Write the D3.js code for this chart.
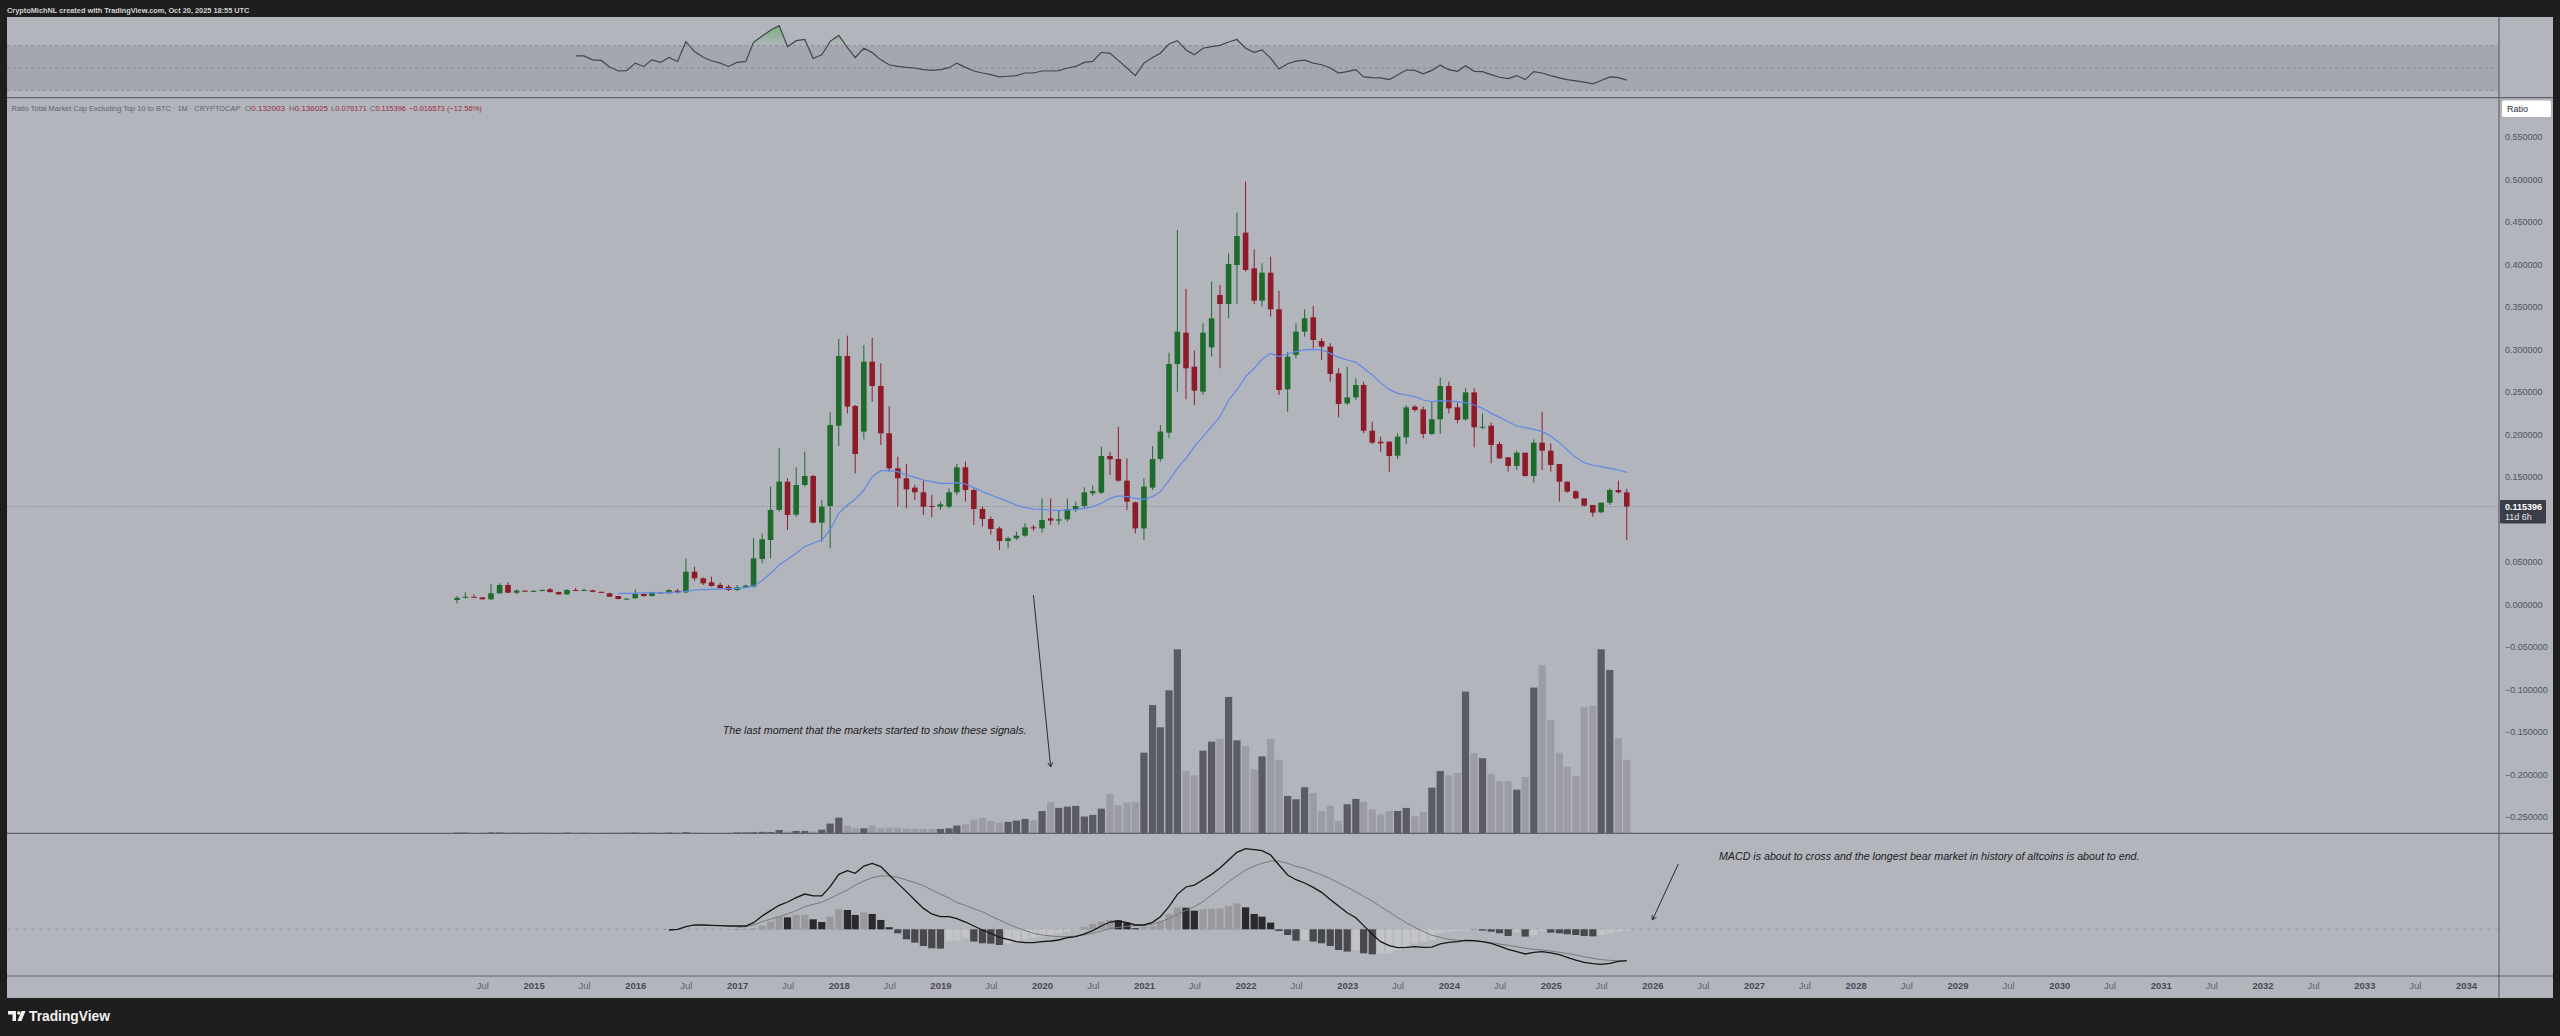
<!DOCTYPE html>
<html><head><meta charset="utf-8">
<script src="https://cdn.jsdelivr.net/npm/d3@7"></script>
<style>html,body{margin:0;padding:0;background:#1e1e1e;overflow:hidden}svg{display:block}</style>
</head><body>
<svg id="c" width="2560" height="1036"></svg>
<script>
// ---------------- DATA (monthly) ----------------
const firstMonth = [2014, 3];          // April 2014 (UTC year, month index)
// [open, high, low, close]
const ohlc = [
 // 2014 Apr-Dec
 [0.0054,0.0100,0.0015,0.0080],[0.0080,0.0144,0.0070,0.0092],[0.0092,0.0120,0.0080,0.0085],
 [0.0085,0.0088,0.0060,0.0062],[0.0062,0.0242,0.0054,0.0133],[0.0133,0.0250,0.0130,0.0231],
 [0.0231,0.0262,0.0133,0.0140],[0.0140,0.0180,0.0125,0.0164],[0.0164,0.0170,0.0150,0.0158],
 // 2015
 [0.0158,0.0172,0.0150,0.0162],[0.0162,0.0180,0.0155,0.0172],[0.0180,0.0195,0.0140,0.0148],
 [0.0148,0.0152,0.0115,0.0121],[0.0121,0.0180,0.0115,0.0172],[0.0172,0.0195,0.0160,0.0170],
 [0.0170,0.0190,0.0160,0.0172],[0.0168,0.0175,0.0145,0.0150],[0.0150,0.0155,0.0135,0.0140],
 [0.0133,0.0138,0.0090,0.0093],[0.0101,0.0103,0.0062,0.0066],[0.0066,0.0074,0.0058,0.0070],
 // 2016
 [0.0074,0.0180,0.0068,0.0125],[0.0125,0.0130,0.0095,0.0101],[0.0101,0.0150,0.0095,0.0144],
 [0.0144,0.0150,0.0125,0.0133],[0.0133,0.0180,0.0128,0.0172],[0.0164,0.0185,0.0135,0.0144],
 [0.0144,0.0540,0.0133,0.0387],[0.0387,0.0446,0.0282,0.0309],[0.0309,0.0320,0.0230,0.0250],
 [0.0262,0.0329,0.0211,0.0219],[0.0231,0.0258,0.0180,0.0191],[0.0211,0.0231,0.0160,0.0172],
 // 2017
 [0.0172,0.0230,0.0160,0.0203],[0.0203,0.0235,0.0195,0.0223],[0.0211,0.0780,0.0200,0.0544],
 [0.0536,0.0835,0.0486,0.0768],[0.0760,0.1388,0.0544,0.1113],[0.1113,0.1838,0.1093,0.1446],
 [0.1446,0.1486,0.0878,0.1054],[0.1058,0.1615,0.1031,0.1407],[0.1407,0.1799,0.1388,0.1513],
 [0.1513,0.1525,0.0956,0.0964],[0.0964,0.1231,0.0741,0.1152],[0.1160,0.2262,0.0662,0.2113],
 // 2018
 [0.2105,0.3125,0.1866,0.2925],[0.2925,0.3164,0.2250,0.2329],[0.2337,0.2348,0.1544,0.1772],
 [0.2035,0.3054,0.1944,0.2858],[0.2858,0.3140,0.2388,0.2572],[0.2572,0.2839,0.1878,0.2015],
 [0.2015,0.2337,0.1564,0.1603],[0.1603,0.1740,0.1152,0.1486],[0.1486,0.1654,0.1133,0.1356],
 [0.1376,0.1407,0.1231,0.1321],[0.1321,0.1458,0.1054,0.1152],[0.1160,0.1290,0.1027,0.1156],
 // 2019
 [0.1152,0.1211,0.1113,0.1180],[0.1152,0.1368,0.1133,0.1321],[0.1321,0.1654,0.1290,0.1615],
 [0.1615,0.1682,0.1211,0.1348],[0.1348,0.1368,0.0937,0.1125],[0.1125,0.1152,0.0917,0.1007],
 [0.1007,0.1035,0.0823,0.0889],[0.0897,0.0917,0.0643,0.0748],[0.0748,0.0799,0.0662,0.0780],
 [0.0780,0.0858,0.0760,0.0811],[0.0811,0.0956,0.0799,0.0909],[0.0909,0.0937,0.0870,0.0901],
 // 2020
 [0.0897,0.1250,0.0847,0.0995],[0.1015,0.1250,0.0937,0.0988],[0.0988,0.1113,0.0937,0.1003],
 [0.1003,0.1250,0.0976,0.1121],[0.1121,0.1211,0.1090,0.1160],[0.1160,0.1380,0.1130,0.1321],
 [0.1309,0.1400,0.1280,0.1335],[0.1317,0.1858,0.1300,0.1748],[0.1748,0.1799,0.1525,0.1709],
 [0.1713,0.2093,0.1446,0.1458],[0.1458,0.1719,0.1113,0.1211],[0.1203,0.1211,0.0839,0.0897],
 // 2021
 [0.0897,0.1486,0.0760,0.1388],[0.1376,0.1866,0.1348,0.1713],[0.1713,0.2113,0.1682,0.2035],
 [0.2023,0.2964,0.1956,0.2831],[0.2831,0.4407,0.2505,0.3211],[0.3199,0.3713,0.2415,0.2780],
 [0.2799,0.2988,0.2348,0.2517],[0.2505,0.3309,0.2466,0.3199],[0.3027,0.3799,0.2917,0.3368],
 [0.3642,0.3760,0.2780,0.3537],[0.3537,0.4133,0.3368,0.4007],[0.3995,0.4611,0.3537,0.4336],
 // 2022
 [0.4376,0.4976,0.3917,0.3937],[0.3956,0.4180,0.3537,0.3576],[0.3576,0.4015,0.3505,0.3905],
 [0.3905,0.4093,0.3388,0.3474],[0.3474,0.3693,0.2466,0.2525],[0.2532,0.2970,0.2270,0.2917],
 [0.2937,0.3309,0.2897,0.3211],[0.3211,0.3474,0.3152,0.3368],[0.3380,0.3513,0.3015,0.3113],
 [0.3101,0.3133,0.2878,0.3035],[0.3035,0.3074,0.2623,0.2713],[0.2721,0.2780,0.2203,0.2360],
 // 2023
 [0.2368,0.2799,0.2348,0.2438],[0.2438,0.2662,0.2407,0.2584],[0.2584,0.2623,0.2015,0.2046],
 [0.2046,0.2152,0.1889,0.1905],[0.1917,0.1976,0.1799,0.1897],[0.1917,0.1917,0.1564,0.1748],
 [0.1752,0.2015,0.1713,0.1976],[0.1968,0.2348,0.1889,0.2321],[0.2329,0.2348,0.2270,0.2289],
 [0.2297,0.2329,0.1956,0.2007],[0.2007,0.2388,0.1995,0.2180],[0.2180,0.2674,0.2007,0.2572],
 // 2024
 [0.2572,0.2623,0.2250,0.2309],[0.2321,0.2376,0.2133,0.2172],[0.2180,0.2544,0.2164,0.2497],
 [0.2497,0.2544,0.1850,0.2086],[0.2086,0.2250,0.2062,0.2093],[0.2105,0.2141,0.1662,0.1878],
 [0.1889,0.1917,0.1713,0.1721],[0.1733,0.1733,0.1564,0.1631],[0.1631,0.1811,0.1584,0.1787],
 [0.1787,0.1787,0.1505,0.1513],[0.1513,0.1944,0.1435,0.1905],[0.1905,0.2270,0.1584,0.1811],
 // 2025 Jan-Oct
 [0.1811,0.1897,0.1564,0.1643],[0.1654,0.1654,0.1211,0.1446],[0.1446,0.1446,0.1317,0.1329],
 [0.1333,0.1348,0.1239,0.1250],[0.1250,0.1250,0.1152,0.1164],[0.1172,0.1172,0.1035,0.1082],
 [0.1086,0.1199,0.1074,0.1199],[0.1199,0.1368,0.1172,0.1348],[0.1348,0.1458,0.1309,0.1321],
 [0.132003,0.136025,0.076171,0.115396]
];
// relative volume (0-100), same months as ohlc
const volume = [
 0.4,0.4,0.3,0.3,0.5,0.5,0.5,0.3,0.3,
 0.3,0.3,0.4,0.3,0.4,0.3,0.3,0.3,0.3,0.4,0.4,0.3,
 0.4,0.3,0.3,0.3,0.4,0.3,0.6,0.4,0.3,0.3,0.3,0.3,
 0.5,0.5,0.6,0.8,0.7,1.8,0.9,1.3,1.3,0.9,2.0,5.3,
 8.5,4.2,2.7,2.7,4.2,2.9,3.1,2.9,2.5,2.4,2.4,2.4,
 2.4,2.7,4.2,4.9,7.4,8.3,6.7,5.8,6.2,6.9,7.8,7.1,
 12.1,17.0,13.8,14.5,14.9,9.1,10.0,13.4,21.4,15.2,16.7,17.0,
 43.8,69.7,57.6,77.7,100,33.9,31.5,44.9,49.8,51.3,74.1,50.5,
 47.5,34.8,41.8,51.3,39.9,20.3,18.5,25.0,21.9,12.1,15.0,6.7,
 15.8,18.7,17.0,13.0,10.3,12.1,12.1,13.8,9.2,11.6,24.8,33.9,
 31.5,32.8,77.0,43.5,40.8,32.2,28.3,28.3,23.7,30.6,79.2,91.5,
 61.6,43.8,36.2,31.3,68.5,69.2,100,88.8,51.6,39.9
];
// 20-month moving average, starting Nov 2015
const maStart = [2015, 10];
const ma20 = [
 0.0133,0.0133,
 0.0133,0.0137,0.0137,0.0140,0.0144,0.0148,0.0156,0.0172,0.0176,0.0180,0.0184,0.0188,
 0.0192,0.0200,0.0220,0.0282,0.0368,0.0466,0.0533,0.0603,0.0682,0.0721,0.0760,0.0878,
 0.1074,0.1172,0.1239,0.1348,0.1505,0.1576,0.1576,0.1564,0.1525,0.1497,0.1466,0.1446,
 0.1427,0.1427,0.1435,0.1419,0.1376,0.1329,0.1290,0.1250,0.1211,0.1172,0.1141,0.1125,
 0.1121,0.1113,0.1105,0.1113,0.1121,0.1133,0.1152,0.1192,0.1250,0.1278,0.1270,0.1250,
 0.1239,0.1270,0.1329,0.1458,0.1603,0.1721,0.1858,0.1976,0.2093,0.2211,0.2407,0.2525,
 0.2682,0.2780,0.2886,0.2956,0.2917,0.2948,0.2976,0.2996,0.3003,0.2996,0.2956,0.2909,
 0.2878,0.2850,0.2780,0.2701,0.2611,0.2532,0.2485,0.2466,0.2446,0.2407,0.2388,0.2399,
 0.2395,0.2388,0.2376,0.2348,0.2309,0.2250,0.2203,0.2152,0.2101,0.2082,0.2062,0.2035,
 0.1984,0.1905,0.1819,0.1729,0.1670,0.1639,0.1623,0.1603,0.1584,0.1556
];
// RSI, starting Jun 2015
const rsiStart = [2015, 5];
const rsi = [
 60.9,60.9,57.3,56.8,50.9,47.3,47.6,54.4,51.4,57.3,55.0,59.4,55.9,73.6,64.7,59.7,56.5,54.4,51.4,55.0,
 55.9,73.0,78.6,83.9,88.0,69.1,74.5,75.6,58.5,61.8,73.9,79.2,68.3,59.4,67.7,63.8,57.3,52.9,51.4,50.6,
 50.0,48.5,47.9,48.5,50.3,54.4,50.6,47.3,45.5,44.1,42.0,42.6,43.2,45.5,45.5,47.3,47.3,47.6,50.0,51.4,
 55.0,55.9,64.1,63.2,56.8,50.0,43.2,54.4,59.4,63.2,71.5,74.5,66.2,61.8,67.7,69.1,70.3,73.3,75.6,67.7,
 64.1,66.2,58.8,49.1,53.8,56.2,57.1,54.4,52.9,50.0,45.5,46.7,48.5,42.0,41.4,41.1,39.6,43.8,48.2,47.9,
 44.7,47.9,52.6,48.5,47.0,52.0,47.0,46.7,44.1,41.7,40.5,43.2,39.6,46.7,45.5,43.2,41.1,39.6,38.5,37.3,
 35.8,38.8,42.0,41.4,39.1
];
const rsiTicks = [75, 50, 25];
const rsiLevels = [70, 50, 30];
// MACD line, starting May 2016
const macdStart = [2016, 4];
const macd = [
 -0.0006,0.0000,0.0023,0.0038,0.0038,0.0035,0.0032,0.0029,
 0.0029,0.0029,0.0058,0.0117,0.0164,0.0211,0.0240,0.0278,0.0310,0.0293,0.0293,0.0375,
 0.0483,0.0515,0.0492,0.0556,0.0580,0.0551,0.0477,0.0404,0.0331,0.0258,0.0184,0.0135,
 0.0111,0.0111,0.0093,0.0064,0.0029,-0.0006,-0.0035,-0.0070,-0.0088,-0.0109,-0.0117,-0.0117,
 -0.0109,-0.0103,-0.0094,-0.0073,-0.0065,-0.0041,-0.0012,0.0029,0.0064,0.0073,0.0058,0.0038,
 0.0038,0.0061,0.0111,0.0199,0.0307,0.0372,0.0389,0.0436,0.0483,0.0539,0.0609,0.0677,
 0.0709,0.0700,0.0691,0.0653,0.0565,0.0477,0.0436,0.0407,0.0369,0.0325,0.0263,0.0205,
 0.0146,0.0102,0.0032,-0.0044,-0.0109,-0.0144,-0.0161,-0.0159,-0.0153,-0.0159,-0.0156,-0.0129,
 -0.0115,-0.0109,-0.0097,-0.0100,-0.0109,-0.0123,-0.0147,-0.0176,-0.0197,-0.0217,-0.0202,-0.0197,
 -0.0208,-0.0223,-0.0246,-0.0270,-0.0290,-0.0302,-0.0308,-0.0299,-0.0282,-0.0276
];
// Signal line and histogram, starting Jan 2017
const signalStart = [2017, 0];
const signal = [
 0.0017,0.0023,0.0038,0.0067,0.0088,0.0111,0.0135,0.0164,0.0199,0.0219,0.0237,0.0272,
 0.0310,0.0345,0.0389,0.0425,0.0454,0.0469,0.0469,0.0457,0.0433,0.0410,0.0384,0.0345,
 0.0310,0.0275,0.0234,0.0211,0.0181,0.0155,0.0117,0.0082,0.0047,0.0017,-0.0012,-0.0035,
 -0.0050,-0.0059,-0.0065,-0.0065,-0.0059,-0.0050,-0.0035,-0.0015,0.0006,0.0017,0.0026,0.0032,
 0.0035,0.0044,0.0067,0.0094,0.0129,0.0167,0.0199,0.0243,0.0302,0.0357,0.0419,0.0469,
 0.0521,0.0556,0.0580,0.0600,0.0600,0.0580,0.0553,0.0536,0.0504,0.0480,0.0445,0.0407,
 0.0369,0.0331,0.0290,0.0249,0.0199,0.0152,0.0103,0.0058,0.0017,-0.0018,-0.0053,-0.0070,
 -0.0088,-0.0097,-0.0100,-0.0103,-0.0109,-0.0117,-0.0129,-0.0141,-0.0153,-0.0167,-0.0176,-0.0182,
 -0.0191,-0.0202,-0.0214,-0.0226,-0.0241,-0.0255,-0.0267,-0.0273,-0.0276,-0.0276
];
const histogram = [
 0.0003,0.0003,0.0009,0.0032,0.0067,0.0111,0.0105,0.0126,0.0129,0.0088,0.0064,0.0111,
 0.0176,0.0170,0.0126,0.0149,0.0135,0.0082,0.0018,-0.0035,-0.0088,-0.0117,-0.0147,-0.0167,
 -0.0170,-0.0108,-0.0100,-0.0079,-0.0108,-0.0123,-0.0126,-0.0138,-0.0129,-0.0108,-0.0088,-0.0079,
 -0.0064,-0.0050,-0.0035,-0.0021,-0.0006,0.0023,0.0047,0.0067,0.0082,0.0079,0.0059,0.0009,
 0.0023,0.0029,0.0067,0.0135,0.0193,0.0190,0.0164,0.0176,0.0179,0.0185,0.0205,0.0229,
 0.0193,0.0135,0.0111,0.0059,-0.0015,-0.0050,-0.0100,-0.0094,-0.0108,-0.0123,-0.0147,-0.0182,
 -0.0196,-0.0182,-0.0211,-0.0220,-0.0217,-0.0211,-0.0182,-0.0147,-0.0123,-0.0108,-0.0094,-0.0035,
 -0.0021,-0.0015,-0.0012,0.0003,-0.0012,-0.0021,-0.0035,-0.0059,-0.0026,-0.0064,-0.0050,-0.0015,
 -0.0029,-0.0035,-0.0044,-0.0050,-0.0059,-0.0062,-0.0050,-0.0035,-0.0021,-0.0012
];
const macdTicks = [0.08, 0.06, 0.04, 0.02, 0, -0.02, -0.04];
// 0.100000 is hidden behind the last-price label in the reference
const priceTicks = [0.55,0.50,0.45,0.40,0.35,0.30,0.25,0.20,0.15,0.05,0,-0.05,-0.10,-0.15,-0.20,-0.25];
const lastPrice = 0.115396;
const axisRange = [[2014,6],[2034,0]];   // first and last labelled tick (Jul 2014 .. 2034)
const headerText = "CryptoMichNL created with TradingView.com, Oct 20, 2025 18:55 UTC";
const titleText = "Ratio Total Market Cap Excluding Top 10 to BTC · 1M · CRYPTOCAP";
const ohlcLegend = [["O","0.132003"],["H","0.136025"],["L","0.076171"],["C","0.115396"],["","−0.016573 (−12.56%)"]];
const notes = [
 {text:"The last moment that the markets started to show these signals.", pane:"main", date:[2016,10,10], value:-0.1480, width:304},
 {text:"MACD is about to cross and the longest bear market in history of altcoins is about to end.", pane:"macd", date:[2026,7,28], value:0.0644, width:421}
];
const arrows = [
 {pane:"main", from:[[2019,11,1], 0.0113], to:[[2020,1,1], -0.191]},
 {pane:"macd", from:[[2026,3,4], 0.0574], to:[[2026,0,1], 0.0082]}
];

// ---------------- LAYOUT ----------------
const FONT = "Liberation Sans, Arial, sans-serif";
const P = {x0:7, x1:2553, y0:17, y1:998};
const AX = 2499;
const rsiPane = {y0:17.3, y1:97.7}, mainPane = {y0:97.7, y1:833.3}, macdPane = {y0:833.3, y1:976};
const C = {bg:"#1e1e1e", pane:"#b3b5bd", band:"#a5a7af", sep:"#5f626c", text:"#50535e",
  up:"#1f6b2c", down:"#8e1c28", ma:"#5f88e6", volUp:"#5a5b63", volDown:"#9b9ca5",
  rsi:"#43454d", macd:"#161616", sig:"#77787d",
  hPosUp:"#9a9a9e", hPosDn:"#2a2a2c", hNegDn:"#48494e", hNegUp:"#c3c4c7"};

const utc = (a) => new Date(Date.UTC(a[0], a[1], a[2] || 1));
const months = d3.utcMonth.range(utc(firstMonth), d3.utcMonth.offset(utc(firstMonth), ohlc.length));
const seriesDates = (start, arr) => arr.map((v, j) => d3.utcMonth.offset(utc(start), j));

const x = d3.scaleUtc().domain([utc([2015,0]), utc([2034,0])]).range([533.6, 2466]);
const yP = d3.scaleLinear().domain([0, 0.55]).range([604.6, 137.1]);
const yR = d3.scaleLinear().domain([30, 70]).range([90.3, 45.7]);
const yM = d3.scaleLinear().domain([0, 0.08]).range([929.3, 838.3]);
const yV = d3.scaleLinear().domain([0, 100]).range([833.3, 649.3]);

const svg = d3.select("#c").attr("font-family", FONT);
const defs = svg.append("defs");
function clip(id, x0, y0, x1, y1){ defs.append("clipPath").attr("id", id).append("rect")
  .attr("x", x0).attr("y", y0).attr("width", x1-x0).attr("height", y1-y0); return `url(#${id})`; }
const clipRsi = clip("cr", P.x0, rsiPane.y0, AX, rsiPane.y1);
const clipMain = clip("cm", P.x0, mainPane.y0, AX, mainPane.y1);
const clipMacd = clip("cd", P.x0, macdPane.y0, AX, macdPane.y1);
const clipRsiAx = clip("cra", AX, rsiPane.y0, P.x1, rsiPane.y1);
const clipMacdAx = clip("cda", AX, macdPane.y0, P.x1, macdPane.y1);
const clipOB = clip("cob", P.x0, rsiPane.y0 - 20, AX, yR(70));
// overbought gradient: transparent at 70, green towards 100
const grad = defs.append("linearGradient").attr("id", "obg").attr("gradientUnits", "userSpaceOnUse")
  .attr("x1", 0).attr("x2", 0).attr("y1", yR(70)).attr("y2", yR(100));
grad.append("stop").attr("offset", 0).attr("stop-color", "#4caf50").attr("stop-opacity", 0);
grad.append("stop").attr("offset", 1).attr("stop-color", "#4caf50").attr("stop-opacity", 1);

function fit(sel, w){ const n = sel.node(); const l = n.getComputedTextLength(); if (l>0) sel.attr("font-size", parseFloat(sel.attr("font-size"))*w/l); return sel; }

// backgrounds
svg.append("rect").attr("width", 2560).attr("height", 1036).attr("fill", C.bg);
svg.append("rect").attr("x", P.x0).attr("y", P.y0).attr("width", P.x1-P.x0).attr("height", P.y1-P.y0).attr("fill", C.pane);
fit(svg.append("text").attr("x", 7).attr("y", 12.5).attr("font-size", 8).attr("font-weight", "bold")
  .attr("fill", "#d4d4d4").text(headerText), 243);

// ---------------- RSI pane ----------------
const gR = svg.append("g").attr("clip-path", clipRsi);
gR.append("rect").attr("x", P.x0).attr("y", yR(70)).attr("width", AX-P.x0).attr("height", yR(30)-yR(70)).attr("fill", C.band);
gR.selectAll("line.lvl").data(rsiLevels).join("line").attr("x1", P.x0).attr("x2", AX)
  .attr("y1", d=>yR(d)).attr("y2", d=>yR(d)).attr("stroke", "#8a8c95").attr("stroke-width", 1)
  .attr("stroke-dasharray", "3,3");
const rsiD = seriesDates(rsiStart, rsi);
const rsiPts = rsi.map((v,j)=>[x(rsiD[j]), yR(v)]);
gR.append("g").attr("clip-path", clipOB).append("path")
  .attr("d", d3.area().x(d=>d[0]).y0(yR(70)).y1(d=>d[1])(rsiPts))
  .attr("fill", "url(#obg)");
gR.append("path").attr("d", d3.line()(rsiPts)).attr("fill", "none").attr("stroke", C.rsi).attr("stroke-width", 1.2);

// ---------------- MAIN pane ----------------
const gM = svg.append("g").attr("clip-path", clipMain);
fit(gM.append("text").attr("x", 11.5).attr("y", 111).attr("font-size", 7.5).attr("fill", "#5f6270").text(titleText), 229);
{
  let cx = 245;
  const widths = [40, 39, 36, 36, 73];
  ohlcLegend.forEach((d,k)=>{
    const t = gM.append("text").attr("x", cx).attr("y", 111).attr("font-size", 7.5).attr("fill", "#9b2a3a");
    t.append("tspan").attr("fill", "#5f6270").text(d[0]);
    t.append("tspan").text(d[1]);
    fit(t, widths[k]);
    cx += [44, 42, 39, 39, 0][k];
  });
}
// volume
gM.selectAll("rect.vol").data(volume).join("rect")
  .attr("x", (d,k)=>x(months[k])-3.6).attr("width", 7.2)
  .attr("y", d=>yV(d)).attr("height", d=>yV(0)-yV(d))
  .attr("fill", (d,k)=> ohlc[k][3] >= ohlc[k][0] ? C.volUp : C.volDown);
// price line
gM.append("line").attr("x1", P.x0).attr("x2", AX).attr("y1", yP(lastPrice)).attr("y2", yP(lastPrice))
  .attr("stroke", "#868993").attr("stroke-width", 1).attr("stroke-dasharray", "1,1.5");
// candles
const cg = gM.selectAll("g.c").data(ohlc).join("g");
cg.append("line").attr("x1", (d,k)=>x(months[k])).attr("x2", (d,k)=>x(months[k]))
  .attr("y1", d=>yP(d[1])).attr("y2", d=>yP(d[2]))
  .attr("stroke", d=> d[3]>=d[0] ? C.up : C.down).attr("stroke-width", 1);
cg.append("rect").attr("x", (d,k)=>x(months[k])-2.8).attr("width", 5.6)
  .attr("y", d=>yP(Math.max(d[0],d[3]))).attr("height", d=>Math.max(1, Math.abs(yP(d[0])-yP(d[3]))))
  .attr("fill", d=> d[3]>=d[0] ? C.up : C.down);
// MA
const maD = seriesDates(maStart, ma20);
gM.append("path").attr("d", d3.line().x((v,j)=>x(maD[j])).y(v=>yP(v))(ma20))
  .attr("fill", "none").attr("stroke", C.ma).attr("stroke-width", 1.2);

// ---------------- MACD pane ----------------
const gD = svg.append("g").attr("clip-path", clipMacd);
gD.append("line").attr("x1", P.x0).attr("x2", AX).attr("y1", yM(0)).attr("y2", yM(0))
  .attr("stroke", "#979aa3").attr("stroke-width", 1).attr("stroke-dasharray", "4,4");
const hD = seriesDates(signalStart, histogram);
gD.selectAll("rect.h").data(histogram).join("rect")
  .attr("x", (d,j)=>x(hD[j])-3.6).attr("width", 7.2)
  .attr("y", d=>yM(Math.max(0,d))).attr("height", d=>Math.max(0.5, Math.abs(yM(d)-yM(0))))
  .attr("fill", (d,j)=>{ const p = j>0 ? histogram[j-1] : 0;
    return d >= 0 ? (d >= p ? C.hPosUp : C.hPosDn) : (d < p ? C.hNegDn : C.hNegUp); });
const sD = seriesDates(signalStart, signal);
gD.append("path").attr("d", d3.line().x((v,j)=>x(sD[j])).y(v=>yM(v))(signal))
  .attr("fill", "none").attr("stroke", C.sig).attr("stroke-width", 1);
const mD = seriesDates(macdStart, macd);
gD.append("path").attr("d", d3.line().x((v,j)=>x(mD[j])).y(v=>yM(v))(macd))
  .attr("fill", "none").attr("stroke", C.macd).attr("stroke-width", 1.3);

// ---------------- annotations ----------------
const paneY = {main: yP, macd: yM};
notes.forEach(n=>{
  const t = svg.append("text").attr("x", x(utc(n.date))).attr("y", paneY[n.pane](n.value)).attr("dy", "0.35em")
    .attr("font-size", 10.5).attr("font-style", "italic").attr("fill", "#1c1c1e").text(n.text);
  fit(t, n.width);
});
arrows.forEach(a=>{
  const yS = paneY[a.pane];
  const x1 = x(utc(a.from[0])), y1 = yS(a.from[1]), x2 = x(utc(a.to[0])), y2 = yS(a.to[1]);
  const ang = Math.atan2(y2-y1, x2-x1), L = 5, s = 0.5;
  const g = svg.append("g").attr("stroke", "#2a2a2c").attr("stroke-width", 1).attr("fill", "none");
  g.append("line").attr("x1", x1).attr("y1", y1).attr("x2", x2).attr("y2", y2);
  g.append("path").attr("d", `M${x2-L*Math.cos(ang-s)},${y2-L*Math.sin(ang-s)}L${x2},${y2}L${x2-L*Math.cos(ang+s)},${y2-L*Math.sin(ang+s)}`);
});

// ---------------- separators ----------------
const sep = svg.append("g").attr("stroke", C.sep).attr("stroke-width", 1.2);
[rsiPane.y1, mainPane.y1, macdPane.y1].forEach(y=> sep.append("line").attr("x1", P.x0).attr("x2", P.x1).attr("y1", y).attr("y2", y));
sep.append("line").attr("x1", AX).attr("x2", AX).attr("y1", P.y0).attr("y2", P.y1);

// ---------------- axes ----------------
function styleAxis(g){ g.select(".domain").remove(); g.selectAll(".tick line").remove();
  g.selectAll("text").attr("fill", C.text).attr("font-size", 9).attr("font-family", FONT); }
svg.append("g").attr("transform", `translate(${AX},0)`).attr("clip-path", clipRsiAx)
  .call(d3.axisRight(yR).tickValues(rsiTicks).tickFormat(d3.format(".2f")).tickSize(0).tickPadding(6)).call(styleAxis);
svg.append("g").attr("transform", `translate(${AX},0)`)
  .call(d3.axisRight(yP).tickValues(priceTicks).tickFormat(d3.format(".6f")).tickSize(0).tickPadding(6)).call(styleAxis);
svg.append("g").attr("transform", `translate(${AX},0)`).attr("clip-path", clipMacdAx)
  .call(d3.axisRight(yM).tickValues(macdTicks).tickFormat(d=> d===0 ? "−0.000000" : d3.format(".6f")(d)).tickSize(0).tickPadding(6)).call(styleAxis);
const xTicks = d3.utcMonth.every(6).range(utc(axisRange[0]), d3.utcDay.offset(utc(axisRange[1]),1));
const xa = svg.append("g").attr("transform", `translate(0,${macdPane.y1})`)
  .call(d3.axisBottom(x).tickValues(xTicks).tickFormat(d=> d.getUTCMonth()===0 ? d.getUTCFullYear() : "Jul").tickSize(0).tickPadding(6))
  .call(styleAxis);
xa.selectAll("text").attr("font-size", 9.5)
  .attr("font-weight", d=> d.getUTCMonth()===0 ? "bold" : "normal")
  .attr("fill", d=> d.getUTCMonth()===0 ? "#474a55" : "#5d606b");

// Ratio label
svg.append("rect").attr("x", 2502).attr("y", 100.5).attr("width", 49).attr("height", 16.5).attr("rx", 2).attr("fill", "#ffffff");
svg.append("text").attr("x", 2507).attr("y", 111.8).attr("font-size", 9).attr("fill", "#2a2e39").text("Ratio");
// last price label
svg.append("rect").attr("x", 2500).attr("y", yP(lastPrice)-6.5).attr("width", 46).attr("height", 23.5).attr("rx", 1).attr("fill", "#3b3e49");
svg.append("text").attr("x", 2505).attr("y", yP(lastPrice)+3).attr("font-size", 9).attr("font-weight", "bold").attr("fill", "#ffffff").text(d3.format(".6f")(lastPrice));
svg.append("text").attr("x", 2505).attr("y", yP(lastPrice)+13.5).attr("font-size", 9).attr("fill", "#e8e8ea").text("11d 6h");

// ---------------- footer logo ----------------
const lg = svg.append("g").attr("fill", "#f0f0f0");
lg.append("path").attr("d", "M8,1011h8v10h-3.5v-6.5H8z");
lg.append("circle").attr("cx", 18.8).attr("cy", 1013).attr("r", 1.8);
lg.append("path").attr("d", "M21.5,1011h4l-4,10h-4z");
fit(lg.append("text").attr("x", 29).attr("y", 1021).attr("font-size", 13).attr("font-weight", "bold").text("TradingView"), 81);
</script>
</body></html>
